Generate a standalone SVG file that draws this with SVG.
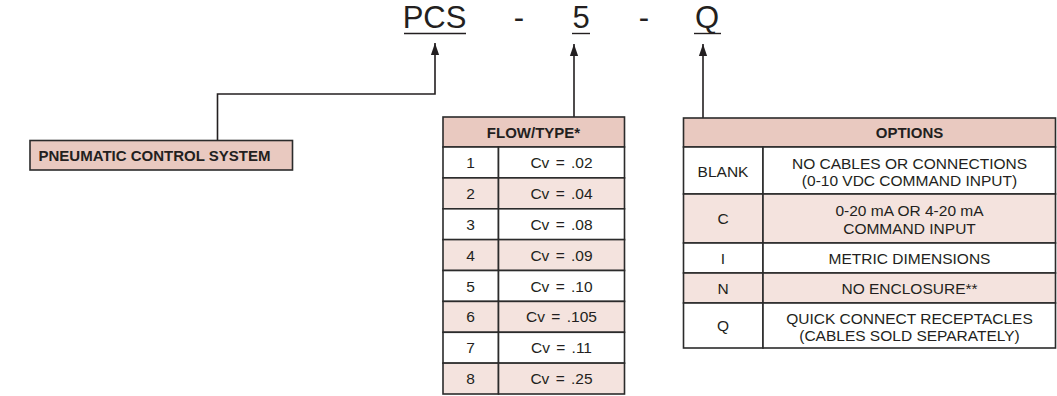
<svg xmlns="http://www.w3.org/2000/svg" width="1057" height="396" viewBox="0 0 1057 396">
<style>
.big{font-family:"Liberation Sans",Arial,sans-serif;font-size:31px;fill:#231f20;text-anchor:middle}
.t{font-family:"Liberation Sans",Arial,sans-serif;font-size:15.5px;fill:#231f20;text-anchor:middle}
.b{font-family:"Liberation Sans",Arial,sans-serif;font-size:15px;font-weight:bold;fill:#231f20;text-anchor:middle}
.cv{word-spacing:2px}
.hd{fill:#e9c9c0;stroke:#2b2b2b;stroke-width:1.6}
.w{fill:#ffffff;stroke:#2b2b2b;stroke-width:1.6}
.s{fill:#f4e3de;stroke:#2b2b2b;stroke-width:1.6}
.ln{fill:none;stroke:#231f20;stroke-width:1.6}
.ul{stroke:#231f20;stroke-width:1.4}
</style>
<defs>
<marker id="arr" markerUnits="userSpaceOnUse" markerWidth="12" markerHeight="18" viewBox="0 0 16 11" refX="16" refY="5.5" orient="auto">
<path d="M0,0 L16,5.5 L0,11 Z" fill="#231f20"/>
</marker>
</defs>
<rect width="1057" height="396" fill="#ffffff"/>

<g id="code">
<text class="big" x="434.5" y="28">PCS</text>
<line class="ul" x1="404" y1="33.5" x2="466" y2="33.5"/>
<text class="big" x="519" y="28">-</text>
<text class="big" x="581" y="28">5</text>
<line class="ul" x1="572" y1="33.5" x2="590" y2="33.5"/>
<text class="big" x="644" y="28">-</text>
<text class="big" x="707" y="28">Q</text>
<line class="ul" x1="694" y1="33.5" x2="721" y2="33.5"/>
</g>

<g id="connectors">
<polyline class="ln" points="217.5,140 217.5,94 435,94 435,43" marker-end="url(#arr)"/>
<line class="ln" x1="574" y1="117" x2="574" y2="44" marker-end="url(#arr)"/>
<line class="ln" x1="703" y1="118" x2="703" y2="44" marker-end="url(#arr)"/>
</g>

<g id="pneumatic">
<rect class="hd" x="30" y="140.5" width="262.5" height="29.5"/>
<text class="b" x="154.5" y="160.5">PNEUMATIC CONTROL SYSTEM</text>
</g>

<g id="flow-type">
<rect class="hd" x="443" y="117" width="181.5" height="30"/>
<text class="b" x="533.5" y="137.5">FLOW/TYPE*</text>
<rect class="w" x="443" y="147" width="55.5" height="30.9"/><rect class="w" x="498.5" y="147" width="126" height="30.9"/>
<rect class="s" x="443" y="177.9" width="55.5" height="30.9"/><rect class="s" x="498.5" y="177.9" width="126" height="30.9"/>
<rect class="w" x="443" y="208.8" width="55.5" height="30.9"/><rect class="w" x="498.5" y="208.8" width="126" height="30.9"/>
<rect class="s" x="443" y="239.6" width="55.5" height="30.9"/><rect class="s" x="498.5" y="239.6" width="126" height="30.9"/>
<rect class="w" x="443" y="270.5" width="55.5" height="30.9"/><rect class="w" x="498.5" y="270.5" width="126" height="30.9"/>
<rect class="s" x="443" y="301.4" width="55.5" height="30.9"/><rect class="s" x="498.5" y="301.4" width="126" height="30.9"/>
<rect class="w" x="443" y="332.3" width="55.5" height="30.9"/><rect class="w" x="498.5" y="332.3" width="126" height="30.9"/>
<rect class="s" x="443" y="363.1" width="55.5" height="30.9"/><rect class="s" x="498.5" y="363.1" width="126" height="30.9"/>
<text class="t" x="470.5" y="168">1</text><text class="t cv" x="561.5" y="168">Cv = .02</text>
<text class="t" x="470.5" y="198.9">2</text><text class="t cv" x="561.5" y="198.9">Cv = .04</text>
<text class="t" x="470.5" y="229.8">3</text><text class="t cv" x="561.5" y="229.8">Cv = .08</text>
<text class="t" x="470.5" y="260.6">4</text><text class="t cv" x="561.5" y="260.6">Cv = .09</text>
<text class="t" x="470.5" y="291.5">5</text><text class="t cv" x="561.5" y="291.5">Cv = .10</text>
<text class="t" x="470.5" y="322.4">6</text><text class="t cv" x="561.5" y="322.4">Cv = .105</text>
<text class="t" x="470.5" y="353.3">7</text><text class="t cv" x="561.5" y="353.3">Cv = .11</text>
<text class="t" x="470.5" y="384.1">8</text><text class="t cv" x="561.5" y="384.1">Cv = .25</text>
</g>

<g id="options">
<rect class="hd" x="683.5" y="118" width="372" height="29"/>
<text class="b" x="909.5" y="138">OPTIONS</text>
<rect class="w" x="683.5" y="147" width="79.5" height="47"/><rect class="w" x="763" y="147" width="292.5" height="47"/>
<rect class="s" x="683.5" y="194" width="79.5" height="49"/><rect class="s" x="763" y="194" width="292.5" height="49"/>
<rect class="w" x="683.5" y="243" width="79.5" height="30"/><rect class="w" x="763" y="243" width="292.5" height="30"/>
<rect class="s" x="683.5" y="273" width="79.5" height="30"/><rect class="s" x="763" y="273" width="292.5" height="30"/>
<rect class="w" x="683.5" y="303" width="79.5" height="45"/><rect class="w" x="763" y="303" width="292.5" height="45"/>
<text class="t" x="723" y="176.5">BLANK</text>
<text class="t" x="909.5" y="168.5">NO CABLES OR CONNECTIONS</text>
<text class="t" x="909.5" y="185.5">(0-10 VDC COMMAND INPUT)</text>
<text class="t" x="723" y="224">C</text>
<text class="t" x="909.5" y="216">0-20 mA OR 4-20 mA</text>
<text class="t" x="909.5" y="233.5">COMMAND INPUT</text>
<text class="t" x="723" y="263.5">I</text>
<text class="t" x="909.5" y="263.5">METRIC DIMENSIONS</text>
<text class="t" x="723" y="293.5">N</text>
<text class="t" x="909.5" y="293.5">NO ENCLOSURE**</text>
<text class="t" x="723" y="331">Q</text>
<text class="t" x="909.5" y="323.5">QUICK CONNECT RECEPTACLES</text>
<text class="t" x="909.5" y="340.5">(CABLES SOLD SEPARATELY)</text>
</g>
</svg>
